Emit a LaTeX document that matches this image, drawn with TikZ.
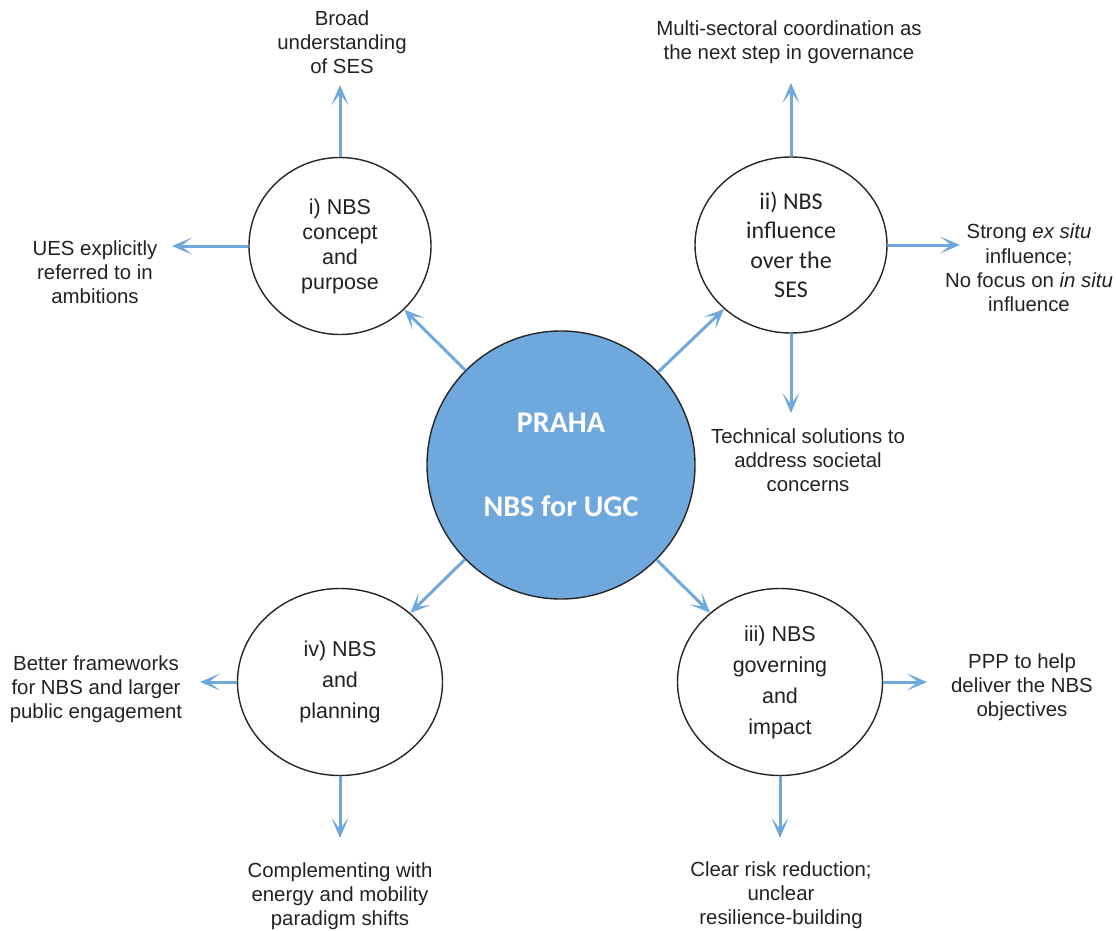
\documentclass[tikz,border=0pt]{standalone}
\usepackage{fontspec}
\setmainfont{Liberation Sans}
\newfontfamily\carlito{Carlito}
\usetikzlibrary{arrows.meta,shapes.geometric}
\definecolor{nbsblue}{HTML}{6FA8DC}
\definecolor{txt}{HTML}{222222}

\begin{document}
\begin{tikzpicture}[x=1pt,y=-1pt,
  ring/.style={ellipse,draw=black!85,line width=1.4pt,fill=white,inner sep=0pt,align=center,text=txt},
  lbl/.style={align=center,text=txt,font=\fontsize{20.4}{24.2}\selectfont,inner sep=0pt},
  arr/.style={draw=nbsblue,line width=3pt,-{Stealth[length=20pt,width=17pt,inset=11pt]}}]

\useasboundingbox (0,0) rectangle (1116,931);

% central hub
\node[ring,minimum width=268pt,minimum height=268pt,fill=nbsblue,text=white,
      font=\carlito\bfseries\fontsize{30}{84}\selectfont] (c) at (561,465) {PRAHA\\NBS for UGC};

% four themes
\node[ring,minimum width=182pt,minimum height=177pt,font=\fontsize{21.5}{25}\selectfont] (i) at (340,246)
  {i) NBS\\concept\\and\\purpose};
\node[ring,minimum width=192pt,minimum height=176pt,font=\carlito\fontsize{24}{29.5}\selectfont] (ii) at (791,245)
  {ii) NBS\\influence\\over the\\SES};
\node[ring,minimum width=205pt,minimum height=187pt,font=\fontsize{21.5}{31}\selectfont] (iii) at (780,682)
  {iii) NBS\\governing\\and\\impact};
\node[ring,minimum width=205pt,minimum height=187pt,font=\fontsize{21.5}{31}\selectfont] (iv) at (340,682)
  {iv) NBS\\and\\planning};

% findings
\node[lbl] (t1) at (342,42) {Broad\\understanding\\of SES};
\node[lbl] (t2) at (789,42) {Multi-sectoral coordination as\\the next step in governance};
\node[lbl] (t3) at (95,272) {UES explicitly\\referred to in\\ambitions};
\node[lbl] (t4) at (1029,268) {Strong \textit{ex situ}\\influence;\\No focus on \textit{in situ}\\influence};
\node[lbl] (t5) at (808,460) {Technical solutions to\\address societal\\concerns};
\node[lbl] (t6) at (96,689) {Better frameworks\\for NBS and larger\\public engagement};
\node[lbl] (t7) at (1022,687) {PPP to help\\deliver the NBS\\objectives};
\node[lbl] (t8) at (340,896) {Complementing with\\energy and mobility\\paradigm shifts};
\node[lbl] (t9) at (781,895) {Clear risk reduction;\\unclear\\resilience-building};

% arrow tips in front of the findings
\coordinate (iup) at (340,85);
\coordinate (ileft) at (172,246);
\coordinate (iiup) at (791,83);
\coordinate (iiright) at (960,245);
\coordinate (iidown) at (791,413);
\coordinate (iiiright) at (927,682);
\coordinate (iiidown) at (780,838);
\coordinate (ivleft) at (200,682);
\coordinate (ivdown) at (340,838);

% hub to themes
\draw[arr] (c) -- (i);
\draw[arr] (c) -- (ii);
\draw[arr] (c) -- (iii);
\draw[arr] (c) -- (iv);

% themes to findings
\draw[arr] (i) -- (iup);
\draw[arr] (i) -- (ileft);
\draw[arr] (ii) -- (iiup);
\draw[arr] (ii) -- (iiright);
\draw[arr] (ii) -- (iidown);
\draw[arr] (iii) -- (iiiright);
\draw[arr] (iii) -- (iiidown);
\draw[arr] (iv) -- (ivleft);
\draw[arr] (iv) -- (ivdown);
\end{tikzpicture}
\end{document}
